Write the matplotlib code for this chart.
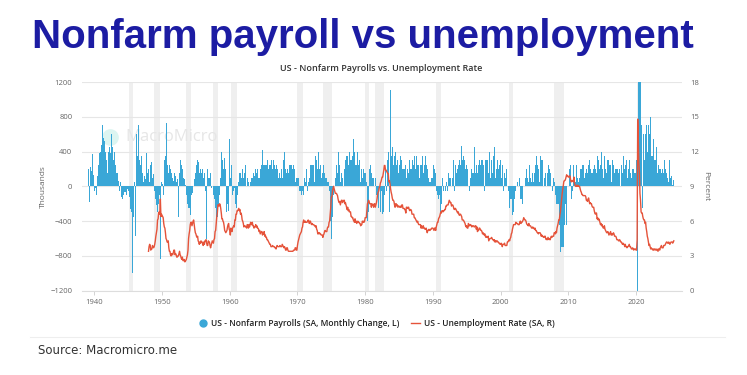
import matplotlib

matplotlib.use("Agg")
import matplotlib.pyplot as plt  # noqa: E402
import numpy as np  # noqa: E402
from matplotlib.lines import Line2D  # noqa: E402

# Nonfarm payrolls, monthly change (thousands), Jan 1939 onwards
payroll_1930s = [180, 200, 150, -180, 250, 220, 180, 200, 370, 240, 130, 90]
payroll_1940s = [
    -50, 30, -20, -100, 60, 120, 200, 250, 300, 380, 400, 460,
    480, 440, 700, 320, 560, 500, 520, 400, 350, 300, 220, 150,
    300, 400, 450, 350, 380, 420, 600, 500, 450, 300, 350, 400,
    250, 250, 200, 150, 100, 150, 60, 20, -50, 80, 50, -100,
    -120, -150, -250, -100, -80, -60, -130, -60, -100, -50, -30, 30,
    -50, -80, -120, -180, -260, -300, -340, -1000, -1960, -350, -150, 50,
    -570, 950, 600, 300, 350, 500, 700, 400, 300, 250, 200, 350,
    200, 150, 100, 50, 120, 150, 90, 230, 380, 300, 150, 200,
    180, 50, -110, 250, 200, 280, 120, 100, 140, 90, -50, 30,
    -150, -200, -220, -300, -250, -200, -150, -100, -40, -830, 300, 50,
]
payroll_1950s = [
    30, 50, -100, 660, 300, 400, 350, 730, 400, 250, 200, 150,
    300, 250, 200, 100, 150, 50, 100, 0, 60, 100, 150, 120,
    100, 50, 150, 80, -100, -350, 150, 780, 300, 200, 250, 150,
    200, 150, 100, 80, 50, 20, -20, -100, -150, -200, -250, -150,
    -250, -200, -330, -120, -100, -80, -50, 0, 50, 80, 100, 150,
    200, 250, 300, 200, 280, 200, 150, 180, 200, 150, 250, 200,
    150, 100, 200, 150, 80, -50, -600, 550, 200, 100, 100, 50,
    100, 150, 50, -20, -80, 0, -50, -100, -150, -200, -250, -200,
    -400, -300, -350, -300, -200, -100, 0, 100, 150, 400, 250, 300,
    200, 250, 330, 350, 200, 150, -300, -200, 100, -280, 200, 540,
]
payroll_1960s = [
    300, 100, -100, 250, -100, -50, -50, -100, -20, -100, -200, -250,
    -150, -100, -50, 50, 100, 150, 200, 150, 100, 150, 200, 100,
    100, 200, 150, 250, 80, 0, 60, 100, 80, 50, 0, -30,
    50, 150, 100, 150, 100, 80, 150, 120, 180, 200, 50, 150,
    150, 200, 100, 150, 100, 150, 200, 150, 250, -90, 420, 250,
    200, 250, 200, 250, 200, 250, 300, 250, 200, 300, 250, 300,
    250, 300, 480, 200, 250, 300, 200, 250, 150, 200, 250, 200,
    200, 50, 100, 50, 150, 100, 200, 200, 0, 100, 350, 300,
    -50, 400, 200, 300, 150, 200, 200, 250, 150, 250, 300, 250,
    300, 250, 200, 200, 250, 300, 200, 300, 50, 150, 100, 150,
]
payroll_1970s = [
    100, 100, 150, -50, -100, -50, 50, -100, -50, -400, -100, 250,
    100, -50, 50, 150, 200, -50, 100, 50, 200, 100, 200, 250,
    250, 200, 250, 150, 250, 150, 50, 350, 200, 300, 250, 200,
    250, 400, 300, 200, 250, 300, 100, 250, 150, 300, 250, 150,
    100, 100, 0, 100, 150, 50, 50, 0, -50, -100, -400, -500,
    -600, -370, -350, -100, 150, 0, 200, 100, 150, 250, 150, 300,
    400, 300, 250, 200, 50, 50, 150, 100, 150, 0, 300, 200,
    200, 300, 350, 350, 350, 350, 250, 200, 400, 300, 350, 300,
    150, 350, 700, 550, 300, 400, 250, 200, 250, 350, 400, 250,
    250, 300, 300, 50, 250, 200, 150, 100, 100, 200, 150, 200,
]
payroll_1980s = [
    150, 100, 50, -100, -400, -300, -200, 200, 100, 250, 200, 150,
    100, 100, 100, 50, 0, 100, 100, -50, -100, -100, -200, -250,
    -300, 0, -150, -300, -50, -250, -320, -200, -300, -300, -100, 0,
    200, -50, 200, 300, 300, 400, 400, -300, 1110, 300, 350, 350,
    450, 500, 250, 350, 350, 400, 300, 250, 300, 300, 350, 150,
    250, 150, 350, 200, 300, 100, 200, 200, 200, 200, 200, 250,
    150, 100, 50, 200, 150, -100, 300, 200, 200, 200, 200, 300,
    250, 250, 300, 350, 200, 200, 350, 150, 250, 500, 250, 300,
    100, 450, 250, 250, 200, 350, 250, 150, 350, 250, 350, 300,
    250, 300, 200, 200, 100, 100, 50, 50, 250, 100, 250, 100,
]
payroll_1990s = [
    300, 250, 200, 50, 150, 0, -50, -200, -100, -150, -150, -100,
    -150, -300, -150, -200, -100, 100, -50, 0, 0, 50, -50, 0,
    50, -50, 50, 150, 100, 100, 50, 100, 0, 150, 100, 200,
    300, 250, -50, 300, 250, 150, 300, 200, 200, 250, 250, 300,
    250, 200, 460, 350, 300, 300, 350, 250, 300, 200, 450, 250,
    350, 200, 150, 0, -50, 250, 100, 200, 200, 150, 150, 150,
    -50, 450, 250, 150, 350, 250, 200, 150, 250, 200, 300, 200,
    250, 300, 300, 300, 150, 250, 300, -50, 520, 300, 300, 300,
    300, 150, 150, 300, 400, 200, 100, 300, 200, 150, 300, 350,
    200, 450, 100, 350, 200, 250, 300, 100, 200, 350, 250, 300,
]
payroll_2000s = [
    250, 100, 460, 250, 200, -50, 150, 0, 100, 0, 200, 150,
    0, 50, -50, -250, -50, -150, -50, -150, -250, -330, -300, -150,
    -150, -150, -50, -100, 0, 50, -100, 0, -50, 100, 0, -150,
    100, -150, -200, -50, 0, 0, 0, -50, 100, 200, 0, 100,
    150, 50, 350, 250, 300, 100, 50, 150, 150, 350, 50, 150,
    150, 250, 100, 350, 150, 250, 350, 200, 50, 100, 350, 150,
    300, 300, 300, 200, 0, 100, 200, 150, 150, 0, 200, 150,
    250, 100, 200, 0, 150, 50, 0, -50, 100, 100, 100, 50,
    0, -100, -100, -200, -200, -150, -200, -250, -450, -500, -750, -700,
    -820, -700, -800, -700, -350, -450, -300, -200, -450, -250, 0, -300,
]
payroll_2010s = [
    0, -100, 200, 250, 530, -150, -50, -50, -50, 250, 100, 100,
    50, 200, 250, 300, 100, 250, 50, 100, 250, 200, 150, 200,
    350, 250, 250, 50, 100, 100, 150, 150, 200, 150, 150, 250,
    200, 300, 150, 200, 200, 150, 150, 250, 200, 250, 250, 50,
    200, 150, 250, 350, 250, 300, 250, 200, 300, 250, 400, 250,
    200, 250, 100, 300, 350, 200, 300, 150, 150, 300, 250, 300,
    150, 250, 250, 150, 50, 300, 300, 150, 250, 150, 200, 200,
    250, 200, 100, 200, 150, 250, 200, 200, 0, 250, 250, 200,
    150, 350, 150, 200, 250, 250, 150, 300, 100, 250, 200, 250,
    300, 0, 150, 250, 100, 200, 150, 200, 200, 150, 250, 150,
]
payroll_2020s = [
    300, 300, -1400, -20500, 2700, 4500, 1500, 1600, 700, 700, 250, -250,
    500, 600, 800, 300, 600, 700, 700, 500, 400, 860, 700, 600,
    450, 800, 400, 350, 350, 350, 550, 300, 300, 300, 300, 250,
    450, 300, 150, 250, 300, 200, 200, 200, 250, 150, 200, 250,
    150, 200, 300, 150, 200, 100, 150, 100, 250, 50, 250, 300,
    110, 100, 120, 160, 20, -130, 70, 20,
]

# Unemployment rate (%), Jan 1948 onwards
unrate_1940s = [
    3.4, 3.8, 4.0, 3.9, 3.5, 3.6, 3.6, 3.9, 3.8, 3.7, 3.8, 4.0,
    4.3, 4.7, 5.0, 5.3, 6.1, 6.2, 6.7, 6.8, 6.6, 7.9, 6.4, 6.6,
]
unrate_1950s = [
    6.5, 6.4, 6.3, 5.8, 5.5, 5.4, 5.0, 4.5, 4.4, 4.2, 4.2, 4.3,
    3.7, 3.4, 3.4, 3.1, 3.0, 3.2, 3.1, 3.1, 3.3, 3.5, 3.5, 3.1,
    3.2, 3.1, 2.9, 2.9, 3.0, 3.0, 3.2, 3.4, 3.1, 3.0, 2.8, 2.7,
    2.9, 2.6, 2.6, 2.7, 2.5, 2.5, 2.6, 2.7, 2.9, 3.1, 3.5, 4.5,
    4.9, 5.2, 5.7, 5.9, 5.9, 5.6, 5.8, 6.0, 6.1, 5.7, 5.3, 5.0,
    4.9, 4.7, 4.6, 4.7, 4.3, 4.2, 4.0, 4.2, 4.1, 4.3, 4.2, 4.2,
    4.0, 3.9, 4.2, 4.0, 4.3, 4.3, 4.4, 4.1, 3.9, 3.9, 4.3, 4.2,
    4.2, 3.9, 3.7, 3.9, 4.1, 4.3, 4.2, 4.1, 4.4, 4.5, 5.1, 5.2,
    5.8, 6.4, 6.7, 7.4, 7.4, 7.3, 7.5, 7.4, 7.1, 6.7, 6.2, 6.2,
    6.0, 5.9, 5.6, 5.2, 5.1, 5.0, 5.1, 5.2, 5.5, 5.7, 5.8, 5.3,
]
unrate_1960s = [
    5.2, 4.8, 5.4, 5.2, 5.1, 5.4, 5.5, 5.6, 5.5, 6.1, 6.1, 6.6,
    6.6, 6.9, 6.9, 7.0, 7.1, 6.9, 7.0, 6.6, 6.7, 6.5, 6.1, 6.0,
    5.8, 5.5, 5.6, 5.6, 5.5, 5.5, 5.4, 5.7, 5.6, 5.4, 5.7, 5.5,
    5.7, 5.9, 5.7, 5.7, 5.9, 5.6, 5.6, 5.4, 5.5, 5.5, 5.7, 5.5,
    5.6, 5.4, 5.4, 5.3, 5.1, 5.2, 4.9, 5.0, 5.1, 5.1, 4.8, 5.0,
    4.9, 5.1, 4.7, 4.8, 4.6, 4.6, 4.4, 4.4, 4.3, 4.2, 4.1, 4.0,
    4.0, 3.8, 3.8, 3.8, 3.9, 3.8, 3.8, 3.8, 3.7, 3.7, 3.6, 3.8,
    3.9, 3.8, 3.8, 3.8, 3.8, 3.9, 3.8, 3.8, 3.8, 4.0, 3.9, 3.8,
    3.7, 3.8, 3.7, 3.5, 3.5, 3.7, 3.7, 3.5, 3.4, 3.4, 3.4, 3.4,
    3.4, 3.4, 3.4, 3.4, 3.4, 3.5, 3.5, 3.5, 3.7, 3.7, 3.5, 3.5,
]
unrate_1970s = [
    3.9, 4.2, 4.4, 4.6, 4.8, 4.9, 5.0, 5.1, 5.4, 5.5, 5.9, 6.1,
    5.9, 5.9, 6.0, 5.9, 5.9, 5.9, 6.0, 6.1, 6.0, 5.8, 6.0, 6.0,
    5.8, 5.7, 5.8, 5.7, 5.7, 5.7, 5.6, 5.6, 5.5, 5.6, 5.3, 5.2,
    4.9, 5.0, 4.9, 5.0, 4.9, 4.9, 4.8, 4.8, 4.8, 4.6, 4.8, 4.9,
    5.1, 5.2, 5.1, 5.1, 5.1, 5.4, 5.5, 5.5, 5.9, 6.0, 6.6, 7.2,
    8.1, 8.1, 8.6, 8.8, 9.0, 8.8, 8.6, 8.4, 8.4, 8.4, 8.3, 8.2,
    7.9, 7.7, 7.6, 7.7, 7.4, 7.6, 7.8, 7.8, 7.6, 7.7, 7.8, 7.8,
    7.5, 7.6, 7.4, 7.2, 7.0, 7.2, 6.9, 7.0, 6.8, 6.8, 6.8, 6.4,
    6.4, 6.3, 6.3, 6.1, 6.0, 5.9, 6.2, 5.9, 6.0, 5.8, 5.9, 6.0,
    5.9, 5.9, 5.8, 5.8, 5.6, 5.7, 5.7, 6.0, 5.9, 6.0, 5.9, 6.0,
]
unrate_1980s = [
    6.3, 6.3, 6.3, 6.9, 7.5, 7.6, 7.8, 7.7, 7.5, 7.5, 7.5, 7.2,
    7.5, 7.4, 7.4, 7.2, 7.5, 7.5, 7.2, 7.4, 7.6, 7.9, 8.3, 8.5,
    8.6, 8.9, 9.0, 9.3, 9.4, 9.6, 9.8, 9.8, 10.1, 10.4, 10.8, 10.8,
    10.4, 10.4, 10.3, 10.2, 10.1, 10.1, 9.4, 9.5, 9.2, 8.8, 8.5, 8.3,
    8.0, 7.8, 7.8, 7.7, 7.4, 7.2, 7.5, 7.5, 7.3, 7.4, 7.2, 7.3,
    7.3, 7.2, 7.2, 7.3, 7.2, 7.4, 7.4, 7.1, 7.1, 7.1, 7.0, 7.0,
    6.7, 7.2, 7.2, 7.1, 7.2, 7.2, 7.0, 6.9, 7.0, 7.0, 6.9, 6.6,
    6.6, 6.6, 6.6, 6.3, 6.3, 6.2, 6.1, 6.0, 5.9, 6.0, 5.8, 5.7,
    5.7, 5.7, 5.7, 5.4, 5.6, 5.4, 5.4, 5.6, 5.4, 5.4, 5.3, 5.3,
    5.4, 5.2, 5.0, 5.2, 5.2, 5.3, 5.2, 5.2, 5.3, 5.3, 5.4, 5.4,
]
unrate_1990s = [
    5.4, 5.3, 5.2, 5.4, 5.4, 5.2, 5.5, 5.7, 5.9, 5.9, 6.2, 6.3,
    6.4, 6.6, 6.8, 6.7, 6.9, 6.9, 6.8, 6.9, 6.9, 7.0, 7.0, 7.3,
    7.3, 7.4, 7.4, 7.4, 7.6, 7.8, 7.7, 7.6, 7.6, 7.3, 7.4, 7.4,
    7.3, 7.1, 7.0, 7.1, 7.1, 7.0, 6.9, 6.8, 6.7, 6.8, 6.6, 6.5,
    6.6, 6.6, 6.5, 6.4, 6.1, 6.1, 6.1, 6.0, 5.9, 5.8, 5.6, 5.5,
    5.6, 5.4, 5.4, 5.8, 5.6, 5.6, 5.7, 5.7, 5.6, 5.5, 5.6, 5.6,
    5.6, 5.5, 5.5, 5.6, 5.6, 5.3, 5.5, 5.1, 5.2, 5.2, 5.4, 5.4,
    5.3, 5.2, 5.2, 5.1, 4.9, 5.0, 4.9, 4.8, 4.9, 4.7, 4.6, 4.7,
    4.6, 4.6, 4.7, 4.3, 4.4, 4.5, 4.5, 4.5, 4.6, 4.5, 4.4, 4.4,
    4.3, 4.4, 4.2, 4.3, 4.2, 4.3, 4.3, 4.2, 4.2, 4.1, 4.1, 4.0,
]
unrate_2000s = [
    4.0, 4.1, 4.0, 3.8, 4.0, 4.0, 4.0, 4.1, 3.9, 3.9, 3.9, 3.9,
    4.2, 4.2, 4.3, 4.4, 4.3, 4.5, 4.6, 4.9, 5.0, 5.3, 5.5, 5.7,
    5.7, 5.7, 5.7, 5.9, 5.8, 5.8, 5.8, 5.7, 5.7, 5.7, 5.9, 6.0,
    5.8, 5.9, 5.9, 6.0, 6.1, 6.3, 6.2, 6.1, 6.1, 6.0, 5.8, 5.7,
    5.7, 5.6, 5.8, 5.6, 5.6, 5.6, 5.5, 5.4, 5.4, 5.5, 5.4, 5.4,
    5.3, 5.4, 5.2, 5.2, 5.1, 5.0, 5.0, 4.9, 5.0, 5.0, 5.0, 4.9,
    4.7, 4.8, 4.7, 4.7, 4.6, 4.6, 4.7, 4.7, 4.5, 4.4, 4.5, 4.4,
    4.6, 4.5, 4.4, 4.5, 4.4, 4.6, 4.7, 4.6, 4.7, 4.7, 4.7, 5.0,
    5.0, 4.9, 5.1, 5.0, 5.4, 5.6, 5.8, 6.1, 6.1, 6.5, 6.8, 7.3,
    7.8, 8.3, 8.7, 9.0, 9.4, 9.5, 9.5, 9.6, 9.8, 10.0, 9.9, 9.9,
]
unrate_2010s = [
    9.8, 9.8, 9.9, 9.9, 9.6, 9.4, 9.4, 9.5, 9.5, 9.4, 9.8, 9.3,
    9.1, 9.0, 9.0, 9.1, 9.0, 9.1, 9.0, 9.0, 9.0, 8.8, 8.6, 8.5,
    8.3, 8.3, 8.2, 8.2, 8.2, 8.2, 8.2, 8.1, 7.8, 7.8, 7.7, 7.9,
    8.0, 7.7, 7.5, 7.6, 7.5, 7.5, 7.3, 7.2, 7.2, 7.2, 6.9, 6.7,
    6.6, 6.7, 6.7, 6.2, 6.3, 6.1, 6.2, 6.1, 5.9, 5.7, 5.8, 5.6,
    5.7, 5.5, 5.4, 5.4, 5.6, 5.3, 5.2, 5.1, 5.0, 5.0, 5.1, 5.0,
    4.8, 4.9, 5.0, 5.1, 4.8, 4.9, 4.8, 4.9, 5.0, 4.9, 4.7, 4.7,
    4.7, 4.6, 4.4, 4.4, 4.4, 4.3, 4.3, 4.4, 4.3, 4.2, 4.2, 4.1,
    4.0, 4.1, 4.0, 4.0, 3.8, 4.0, 3.8, 3.8, 3.7, 3.8, 3.8, 3.9,
    4.0, 3.8, 3.8, 3.7, 3.6, 3.6, 3.7, 3.6, 3.5, 3.6, 3.6, 3.6,
]
unrate_2020s = [
    3.5, 3.5, 4.4, 14.8, 13.2, 11.0, 10.2, 8.4, 7.8, 6.8, 6.7, 6.7,
    6.4, 6.2, 6.1, 6.1, 5.8, 5.9, 5.4, 5.1, 4.7, 4.5, 4.2, 3.9,
    4.0, 3.8, 3.6, 3.7, 3.6, 3.6, 3.5, 3.6, 3.5, 3.6, 3.6, 3.5,
    3.5, 3.6, 3.5, 3.4, 3.6, 3.6, 3.5, 3.7, 3.8, 3.9, 3.7, 3.7,
    3.7, 3.9, 3.9, 3.9, 4.0, 4.1, 4.2, 4.2, 4.1, 4.1, 4.2, 4.1,
    4.0, 4.1, 4.2, 4.2, 4.2, 4.1, 4.2, 4.3,
]

# NBER recessions (decimal years)
recession_start = [1945.08, 1948.83, 1953.5, 1957.58, 1960.25, 1969.92, 1973.83,
                   1980.0, 1981.5, 1990.5, 2001.17, 2007.92, 2020.08]
recession_end = [1945.75, 1949.75, 1954.33, 1958.25, 1961.08, 1970.83, 1975.17,
                 1980.5, 1982.83, 1991.17, 2001.83, 2009.42, 2020.25]

year_ticks = [1940, 1950, 1960, 1970, 1980, 1990, 2000, 2010, 2020]
left_ticks = [-1200, -800, -400, 0, 400, 800, 1200]
right_ticks = [0, 3, 6, 9, 12, 15, 18]

BLUE = "#3aa7d7"
RED = "#e5533a"
GREY = "#666666"
UI_FONT = ["Open Sans", "DejaVu Sans"]

payroll = np.array(payroll_1930s + payroll_1940s + payroll_1950s + payroll_1960s
                   + payroll_1970s + payroll_1980s + payroll_1990s + payroll_2000s
                   + payroll_2010s + payroll_2020s, dtype=float)
unrate = np.array(unrate_1940s + unrate_1950s + unrate_1960s + unrate_1970s
                  + unrate_1980s + unrate_1990s + unrate_2000s + unrate_2010s
                  + unrate_2020s, dtype=float)
pay_x = 1939 + np.arange(len(payroll)) / 12
ur_x = 1948 + np.arange(len(unrate)) / 12

plt.rcParams["font.family"] = UI_FONT

fig = plt.figure(figsize=(7.47, 3.75), dpi=100)
ax = fig.add_axes([0.1098, 0.2248, 0.8028, 0.5565])

for start, end in zip(recession_start, recession_end):
    ax.axvspan(start, end, color="#efefef", lw=0, zorder=0.2)
ax.bar(pay_x, payroll, width=1 / 12, align="edge", color=BLUE, lw=0, zorder=2)
ax.set_xlim(1938.18, 2026.75)
ax.set_ylim(-1200, 1200)
ax.set_yticks(left_ticks)
ax.set_xticks(year_ticks)
ax.set_axisbelow(True)
ax.yaxis.grid(True, color="#e6e6e6", lw=0.8)
ax.tick_params(axis="y", length=0, labelsize=5.5, labelcolor=GREY, pad=7)
ax.tick_params(axis="x", length=3, width=0.6, color="#cccccc", labelsize=5.5,
               labelcolor=GREY, pad=3)
for side in ["top", "left", "right"]:
    ax.spines[side].set_visible(False)
ax.spines["bottom"].set_color("#dddddd")
ax.set_ylabel("Thousands", fontsize=6, color=GREY)
ax.yaxis.set_label_coords(-0.058, 0.5)

ax2 = ax.twinx()
ax2.plot(ur_x, unrate, color=RED, lw=1.0, zorder=3)
ax2.set_ylim(0, 18)
ax2.set_yticks(right_ticks)
ax2.tick_params(axis="y", length=0, labelsize=5.5, labelcolor=GREY, pad=6)
for side in ["top", "left", "right", "bottom"]:
    ax2.spines[side].set_visible(False)
ax2.set_ylabel("Percent", fontsize=6, color=GREY, rotation=270, va="center")
ax2.yaxis.set_label_coords(1.04, 0.5)

# watermark
ax.plot([0.047], [0.735], transform=ax.transAxes, marker="o", ms=11,
        color="#dcf5f1", zorder=1)
ax.text(0.073, 0.735, "MacroMicro", transform=ax.transAxes, fontsize=12,
        color="#e6e6e6", va="center", ha="left", zorder=1.5)

fig.text(0.4857, 0.900, "Nonfarm payroll vs unemployment", ha="center", va="center",
         fontsize=29, fontweight="bold", color="#1c1ca3", family="Liberation Sans")
fig.text(0.51, 0.818, "US - Nonfarm Payrolls vs. Unemployment Rate", ha="center",
         va="center", fontsize=6.5, fontweight="semibold", color="#333333")

handles = [Line2D([], [], marker="o", ls="", ms=5, color=BLUE),
           Line2D([], [], color=RED, lw=1.0)]
labels = ["US - Nonfarm Payrolls (SA, Monthly Change, L)", "US - Unemployment Rate (SA, R)"]
fig.legend(handles, labels, loc="center", bbox_to_anchor=(0.504, 0.137), ncol=2,
           frameon=False, prop={"size": 6.1, "weight": "semibold"}, handlelength=1.0,
           handletextpad=0.5, columnspacing=1.4, labelcolor="#222222")

fig.add_artist(Line2D([0.04, 0.97], [0.101, 0.101], color="#eeeeee", lw=0.8))
fig.text(38 / 747, 1 - 350 / 375, "Source: Macromicro.me", fontsize=8.5,
         color="#333333", va="center", ha="left", family="DejaVu Sans")

fig.savefig("out.png", dpi=100)
